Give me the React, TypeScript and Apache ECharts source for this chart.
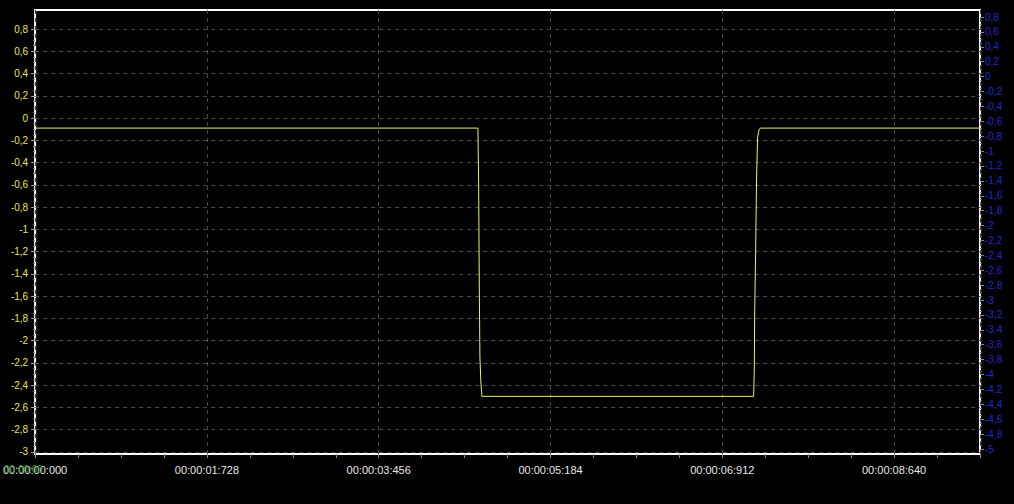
import React, { useEffect, useRef } from "react";
import * as echarts from "echarts";

// Signal samples (time in seconds, value on the left axis)
const times = [0, 4.454, 4.461, 4.468, 4.474, 4.484, 4.494, 7.227, 7.234, 7.237, 7.247, 7.257, 7.267, 7.281, 7.294, 9.504];
const values = [-0.09, -0.09, -0.575, -1.545, -2.147, -2.38, -2.5, -2.5, -2.264, -1.788, -1.213, -0.53, -0.171, -0.108, -0.09, -0.09];

// Axis ranges and tick labels
const xMin = 0;
const xMax = 9.504;
const xInterval = 1.728;
const leftMin = -3.018;
const leftMax = 0.971;
const rightMin = -5.067;
const rightMax = 0.894;
const leftTicks = [0.8, 0.6, 0.4, 0.2, 0, -0.2, -0.4, -0.6, -0.8, -1, -1.2, -1.4, -1.6, -1.8, -2, -2.2, -2.4, -2.6, -2.8, -3];
const rightTicks = [0.8, 0.6, 0.4, 0.2, 0, -0.2, -0.4, -0.6, -0.8, -1, -1.2, -1.4, -1.6, -1.8, -2, -2.2, -2.4, -2.6, -2.8, -3, -3.2, -3.4, -3.6, -3.8, -4, -4.2, -4.4, -4.6, -4.8, -5];

const minorOf = (majors: number[]) => {
  const out: number[] = [];
  for (let i = 0; i < majors.length - 1; i++) {
    const a = majors[i];
    const b = majors[i + 1];
    for (let k = 1; k < 4; k++) out.push(+(a + ((b - a) * k) / 4).toFixed(3));
  }
  return out;
};

const fmtNum = (v: number) => {
  const r = Math.round(v * 10) / 10;
  let s = r.toFixed(1);
  if (s.endsWith(".0")) s = s.slice(0, -2);
  if (s === "-0") s = "0";
  return s.replace(".", ",");
};

const fmtTime = (t: number) => {
  const ms = Math.round(t * 1000);
  const s = Math.floor(ms / 1000);
  const rest = ms % 1000;
  const pad = (n: number, l: number) => String(n).padStart(l, "0");
  return `00:00:${pad(s, 2)}:${pad(rest, 3)}`;
};

export default function App() {
  const ref = useRef<HTMLDivElement>(null);
  useEffect(() => {
    if (!ref.current) return;
    const chart = echarts.init(ref.current, null, { renderer: "svg" });
    const grid = "#4a4a4a";
    chart.setOption({
      animation: false,
      backgroundColor: "#000000",
      textStyle: { fontFamily: "Liberation Sans" },
      grid: {
        left: 34,
        right: 34,
        top: 10,
        bottom: 50,
        show: true,
        borderColor: "#ffffff",
        borderWidth: 2,
        backgroundColor: "transparent",
      },
      xAxis: {
        type: "value",
        position: "bottom",
        min: xMin,
        max: xMax,
        interval: xInterval,
        axisLine: { show: false, onZero: false },
        axisTick: { show: true, length: 4, lineStyle: { color: "#8a8a8a" } },
        minorTick: { show: true, splitNumber: 4, length: 4, lineStyle: { color: "#8a8a8a" } },
        axisLabel: {
          color: "#e8e8e8",
          fontSize: 11,
          margin: 10,
          showMaxLabel: false,
          formatter: (v: number) => fmtTime(v),
        },
        splitLine: { show: true, lineStyle: { color: grid, type: [4, 4], width: 1 } },
      },
      yAxis: [
        {
          type: "value",
          position: "left",
          min: leftMin,
          max: leftMax,
          axisLine: { show: false, onZero: false },
          axisTick: { show: true, customValues: leftTicks, length: 4, lineStyle: { color: "#aaa" } },
          axisLabel: {
            customValues: leftTicks,
            color: "#e6e65a",
            fontSize: 10,
            margin: 7,
            formatter: (v: number) => fmtNum(v),
          },
          splitLine: { show: true, lineStyle: { color: grid, type: [4, 4], width: 1 } },
        },
        {
          type: "value",
          position: "right",
          min: rightMin,
          max: rightMax,
          axisLine: { show: false, onZero: false },
          axisTick: { show: true, customValues: rightTicks, length: 4, lineStyle: { color: "#888" } },
          axisLabel: {
            customValues: rightTicks,
            color: "#2626d0",
            fontSize: 10,
            margin: 5,
            formatter: (v: number) => fmtNum(v),
          },
          splitLine: { show: false },
        },
        {
          type: "value",
          position: "left",
          min: leftMin,
          max: leftMax,
          axisLine: { show: false, onZero: false },
          axisTick: { show: true, customValues: minorOf(leftTicks), length: 2, lineStyle: { color: "#888" } },
          axisLabel: { show: false },
          splitLine: { show: false },
        },
        {
          type: "value",
          position: "right",
          min: rightMin,
          max: rightMax,
          axisLine: { show: false, onZero: false },
          axisTick: { show: true, customValues: minorOf(rightTicks), length: 2, lineStyle: { color: "#666" } },
          axisLabel: { show: false },
          splitLine: { show: false },
        },
      ],
      graphic: [
        {
          type: "text",
          left: 4,
          top: 464,
          style: { text: "00:00:00", fill: "#2f8f2f", fontSize: 10, fontFamily: "Liberation Sans" },
          z: 10,
        },
      ],
      series: [
        {
          type: "line",
          yAxisIndex: 0,
          data: times.map((t, i) => [t, values[i]]),
          symbol: "none",
          lineStyle: { color: "#f0f060", width: 1 },
          z: 5,
        },
      ],
    });
    return () => chart.dispose();
  }, []);
  return <div ref={ref} style={{ width: 1014, height: 504, position: "fixed", left: 0, top: 0 }} />;
}
